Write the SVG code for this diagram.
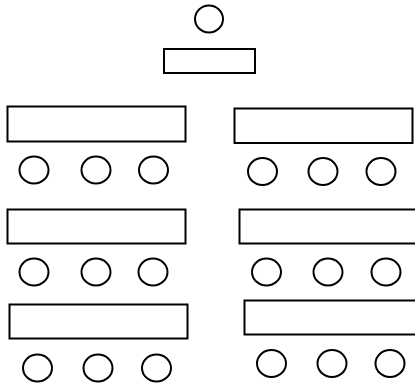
<svg xmlns="http://www.w3.org/2000/svg" width="415" height="383" viewBox="0 0 415 383">
<style>
.n{fill:#fff;stroke:#000;stroke-width:2}
</style>
<rect width="415" height="383" fill="#fff"/>
<g id="connectors"></g>
<g id="top-circle"><ellipse class="n" cx="209" cy="19" rx="14" ry="13.5"/></g>
<g id="top-rect"><rect class="n" x="164" y="49" width="91" height="24"/></g>
<g id="rect-l1"><rect class="n" x="7.5" y="106.5" width="178" height="35"/></g>
<g id="c-l1a"><ellipse class="n" cx="34" cy="170" rx="14.5" ry="13.5"/></g>
<g id="c-l1b"><ellipse class="n" cx="96" cy="170" rx="14.5" ry="13.5"/></g>
<g id="c-l1c"><ellipse class="n" cx="153.5" cy="170" rx="14.5" ry="13.5"/></g>
<g id="rect-r1"><rect class="n" x="234.5" y="108.5" width="178" height="34.5"/></g>
<g id="c-r1a"><ellipse class="n" cx="262.5" cy="171.5" rx="14.5" ry="13.5"/></g>
<g id="c-r1b"><ellipse class="n" cx="323" cy="171.5" rx="14.5" ry="13.5"/></g>
<g id="c-r1c"><ellipse class="n" cx="381" cy="171.5" rx="14.5" ry="13.5"/></g>
<g id="rect-l2"><rect class="n" x="7.5" y="209.5" width="178" height="34"/></g>
<g id="c-l2a"><ellipse class="n" cx="34" cy="272" rx="14.5" ry="13.5"/></g>
<g id="c-l2b"><ellipse class="n" cx="96" cy="272" rx="14.5" ry="13.5"/></g>
<g id="c-l2c"><ellipse class="n" cx="153" cy="272" rx="14.5" ry="13.5"/></g>
<g id="rect-r2"><rect class="n" x="239.5" y="209.5" width="178" height="34"/></g>
<g id="c-r2a"><ellipse class="n" cx="266.5" cy="272" rx="14.5" ry="13.5"/></g>
<g id="c-r2b"><ellipse class="n" cx="328" cy="272" rx="14.5" ry="13.5"/></g>
<g id="c-r2c"><ellipse class="n" cx="386" cy="272" rx="14.5" ry="13.5"/></g>
<g id="rect-l3"><rect class="n" x="9.5" y="304.5" width="178" height="34"/></g>
<g id="c-l3a"><ellipse class="n" cx="37.5" cy="368" rx="14.5" ry="13.5"/></g>
<g id="c-l3b"><ellipse class="n" cx="98" cy="368" rx="14.5" ry="13.5"/></g>
<g id="c-l3c"><ellipse class="n" cx="156.5" cy="368" rx="14.5" ry="13.5"/></g>
<g id="rect-r3"><rect class="n" x="244.5" y="300.5" width="178" height="34"/></g>
<g id="c-r3a"><ellipse class="n" cx="271.5" cy="363.5" rx="14.5" ry="13.5"/></g>
<g id="c-r3b"><ellipse class="n" cx="332" cy="363.5" rx="14.5" ry="13.5"/></g>
<g id="c-r3c"><ellipse class="n" cx="390" cy="363.5" rx="14.5" ry="13.5"/></g>
</svg>
